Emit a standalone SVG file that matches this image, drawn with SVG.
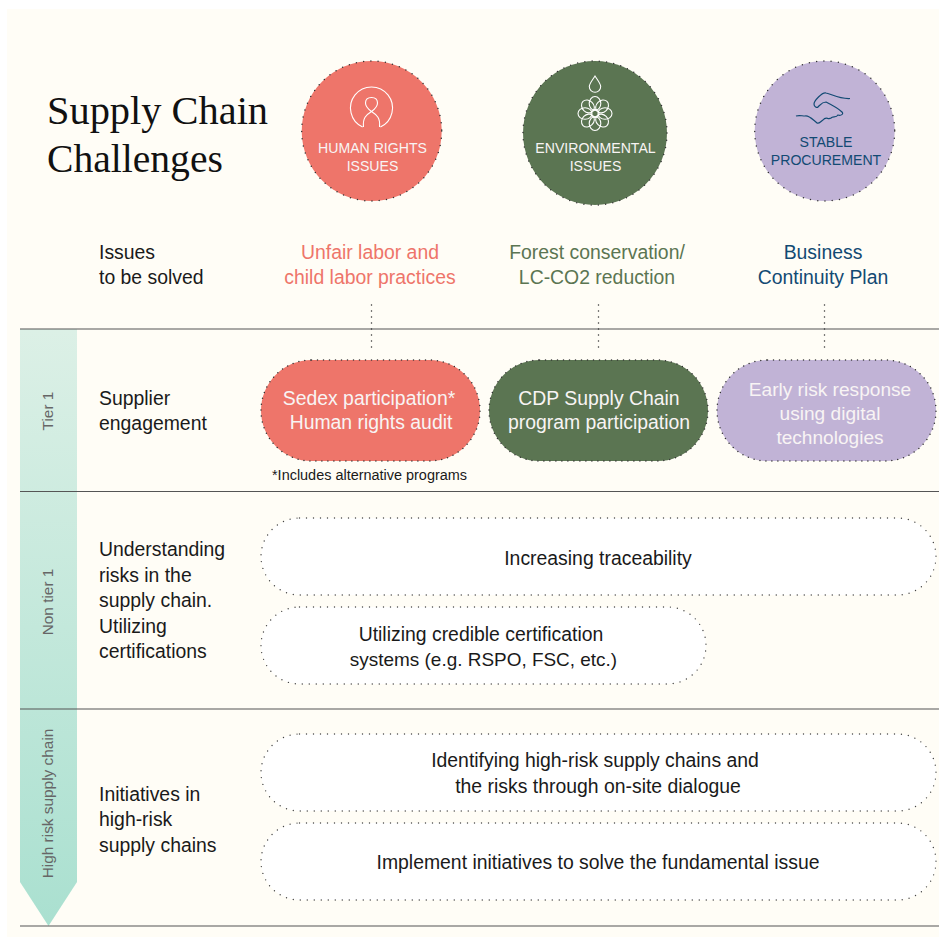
<svg xmlns="http://www.w3.org/2000/svg" width="939" height="945" viewBox="0 0 939 945">
<style>
text{font-family:"Liberation Sans",Arial,sans-serif;font-size:19.4px;fill:#1a1a1a}
.m{text-anchor:middle}
.s{font-size:19.100px}
.title{font-family:"Liberation Serif","Times New Roman",serif;font-size:40.4px;fill:#111}
.cap{font-size:14.100px;text-anchor:middle}
.w{fill:#f8f4f4}
.dot{stroke:#333;stroke-width:1.5;stroke-linecap:round;stroke-dasharray:0 7.300}
.pill{stroke:#333;stroke-width:1.5;stroke-linecap:round;stroke-dasharray:0 6}
.box{fill:#fff;stroke:#444;stroke-width:1.4;stroke-linecap:round;stroke-dasharray:0 7}
.rule{stroke:#555;stroke-width:1.2;fill:none}
.ic{fill:none;stroke:#fff;stroke-width:1.1}
.tier{font-size:15.400px;fill:#666;text-anchor:middle}
</style>
<defs><linearGradient id="g" gradientUnits="userSpaceOnUse" x1="0" y1="330" x2="0" y2="925"><stop offset="0" stop-color="#dcf0e6"/><stop offset="1" stop-color="#aae0d0"/></linearGradient></defs>
<rect width="939" height="945" fill="#ffffff"/>
<rect x="7" y="9" width="932" height="928" fill="#fffdf6"/>
<g id="tier-arrow"><path d="M20 329H77V882L48.500 926L20 882Z" fill="url(#g)"/>
<text class="tier" transform="translate(53 411) rotate(-90)">Tier 1</text>
<text class="tier" transform="translate(53 602) rotate(-90)">Non tier 1</text>
<text class="tier" transform="translate(53 803.500) rotate(-90)">High risk supply chain</text></g>
<g id="connectors">
<path class="rule" d="M20 329H939M20 491.500H939M20 709H939M20 926H939"/>
<path class="dot" style="stroke-dasharray:0 6" fill="none" d="M371.500 305V353M598.500 305V353M824.500 305V353"/>
</g>
<g id="title"><text class="title" x="47" y="124">Supply Chain</text><text class="title" x="47" y="172" style="font-size:39.600px">Challenges</text></g>
<g id="human-rights"><circle class="dot" cx="371.700" cy="131" r="70" fill="#ee756a"/>
<path class="ic" d="M362.600 127A21 21 0 1 1 380.400 127M363.500 127C362.500 118 366 115 371.500 111.500C375 109 377.500 106.500 377.500 103C377.500 99.500 375 97.500 371.500 97.500C368 97.500 365.500 99.500 365.500 103C365.500 106.500 368 109 371.500 111.500C377 115 380.500 118 379.500 127"/>
<text class="cap w" x="372.500" y="153.300">HUMAN RIGHTS</text><text class="cap w" x="372.500" y="171">ISSUES</text></g>
<g id="environmental"><circle class="dot" cx="595" cy="133" r="72" fill="#5b7552"/>
<path class="ic" d="M595 76C591 82 589.300 84 589.300 86.500A5.700 5.700 0 0 0 600.700 86.500C600.700 84 599 82 595 76Z"/>
<circle class="ic" cx="595" cy="113.500" r="4"/>
<g class="ic"><ellipse cx="595" cy="103.500" rx="5.800" ry="7"/><ellipse cx="595" cy="103.500" rx="5.800" ry="7" transform="rotate(45 595 113.500)"/><ellipse cx="595" cy="103.500" rx="5.800" ry="7" transform="rotate(90 595 113.500)"/><ellipse cx="595" cy="103.500" rx="5.800" ry="7" transform="rotate(135 595 113.500)"/><ellipse cx="595" cy="103.500" rx="5.800" ry="7" transform="rotate(180 595 113.500)"/><ellipse cx="595" cy="103.500" rx="5.800" ry="7" transform="rotate(225 595 113.500)"/><ellipse cx="595" cy="103.500" rx="5.800" ry="7" transform="rotate(270 595 113.500)"/><ellipse cx="595" cy="103.500" rx="5.800" ry="7" transform="rotate(315 595 113.500)"/></g>
<text class="cap w" x="595.500" y="153.300">ENVIRONMENTAL</text><text class="cap w" x="595.500" y="171">ISSUES</text></g>
<g id="stable"><circle class="dot" cx="824.700" cy="131" r="70" fill="#c1b3d6"/>
<path d="M850 98.500C838 99 832 94 826 93C822 92 814 101 814 104C814 107 817 108 818 107C821 104 822 102 826 102C832 105 838 108 842 112C844 114 841 116 838 115C836 118 833 116 831 118C828 120 826 116 823 120C820 122 819 124 817 123C812 119 809 115 805 116C802 116 799 115 796 116" fill="none" stroke="#124a73" stroke-width="1.2"/>
<text class="cap" x="826" y="147.300" style="fill:#124a73">STABLE</text><text class="cap" x="826" y="165" style="fill:#124a73">PROCUREMENT</text></g>
<g id="issues"><text x="99" y="258.500">Issues</text><text x="99" y="283.500">to be solved</text>
<text class="m" x="370" y="258.500" style="fill:#ee756a">Unfair labor and</text><text class="m" x="370" y="283.500" style="fill:#ee756a">child labor practices</text>
<text class="m" x="597" y="258.500" style="fill:#5b7552">Forest conservation/</text><text class="m" x="597" y="283.500" style="fill:#5b7552">LC-CO2 reduction</text>
<text class="m" x="823" y="258.500" style="fill:#124a73">Business</text><text class="m" x="823" y="283.500" style="fill:#124a73">Continuity Plan</text></g>
<g id="supplier"><text x="99" y="404.500">Supplier</text><text x="99" y="429.500">engagement</text></g>
<g id="sedex"><rect class="pill" x="261" y="360" width="219" height="101" rx="50.500" fill="#ee756a"/><text class="m w" x="369" y="404.500">Sedex participation*</text><text class="m w" x="371" y="428.500">Human rights audit</text></g>
<text x="272" y="480" style="font-size:14.450px">*Includes alternative programs</text>
<g id="cdp"><rect class="pill" x="489" y="360" width="219" height="101" rx="50.500" fill="#5b7552"/><text class="m w" x="599" y="404.500">CDP Supply Chain</text><text class="m w" x="599" y="428.500">program participation</text></g>
<g id="early"><rect class="pill" x="717" y="360" width="219" height="101" rx="50.500" fill="#c1b3d6"/><text class="m w s" x="830" y="395.500">Early risk response</text><text class="m w s" x="830" y="419.500">using digital</text><text class="m w s" x="830" y="443.500">technologies</text></g>
<g id="understanding"><text x="99" y="555.500">Understanding</text><text x="99" y="581.500">risks in the</text><text x="99" y="606.500">supply chain.</text><text x="99" y="632.500">Utilizing</text><text x="99" y="657.500">certifications</text></g>
<g id="traceability"><rect class="box" x="261" y="518" width="675" height="77" rx="38.500"/><text class="m" x="598" y="564.500">Increasing traceability</text></g>
<g id="certification"><rect class="box" x="261" y="607" width="445" height="77" rx="38.500"/><text class="m" x="481" y="640.500">Utilizing credible certification</text><text class="m s" x="483.500" y="665.500" style="font-size:18.950px">systems (e.g. RSPO, FSC, etc.)</text></g>
<g id="initiatives"><text x="99" y="800.500">Initiatives in</text><text x="99" y="825.500">high-risk</text><text x="99" y="851.500">supply chains</text></g>
<g id="identifying"><rect class="box" x="261" y="734" width="675" height="77" rx="38.500"/><text class="m" x="595" y="766.500">Identifying high-risk supply chains and</text><text class="m" x="598" y="792.500">the risks through on-site dialogue</text></g>
<g id="implement"><rect class="box" x="261" y="823" width="675" height="77" rx="38.500"/><text class="m" x="598" y="868.500">Implement initiatives to solve the fundamental issue</text></g>
</svg>
